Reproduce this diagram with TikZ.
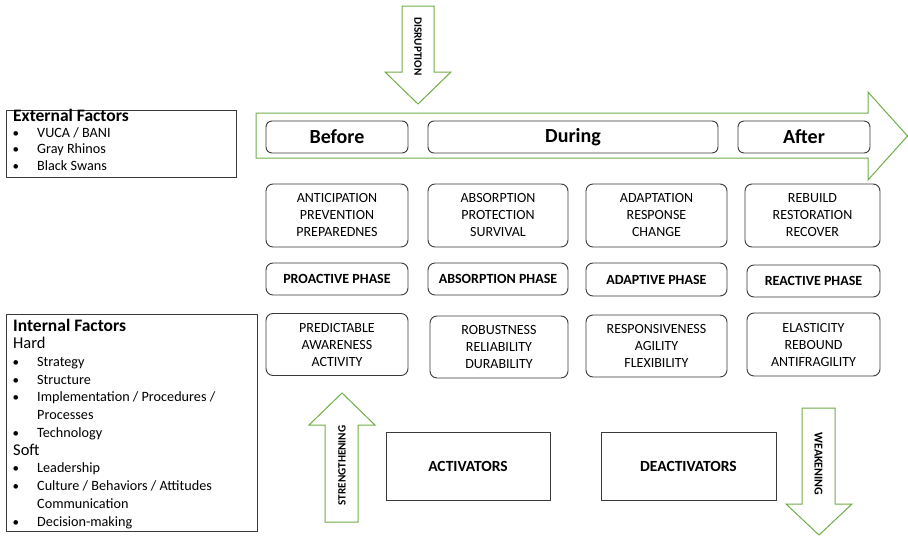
\documentclass[tikz,border=0pt]{standalone}
\usepackage{fontspec}
\setmainfont{Carlito}
\definecolor{arrgreen}{HTML}{70AD47}
\definecolor{boxgray}{HTML}{3A3A3A}
\begin{document}
\begin{tikzpicture}[x=1pt,y=-1pt,
  rbox/.style={draw=boxgray, line width=0.9pt, rounded corners=7pt, align=center, inner sep=0pt, font=\fontsize{14}{17}\selectfont},
  pbox/.style={rbox, font=\fontsize{14}{16}\selectfont\bfseries},
  tbox/.style={rbox, rounded corners=6pt, font=\fontsize{20}{22}\selectfont\bfseries},
  sbox/.style={draw=boxgray, line width=0.9pt, inner sep=0pt, font=\fontsize{15.5}{17}\selectfont\bfseries},
  fbox/.style={draw=boxgray, line width=0.9pt},
  garrow/.style={draw=arrgreen, line width=1pt, fill=white},
  vlabel/.style={font=\fontsize{11.2}{13}\selectfont\bfseries, inner sep=0pt},
  ftitle/.style={anchor=mid west, inner sep=0pt, font=\fontsize{17.5}{19}\selectfont\bfseries},
  fhead/.style={anchor=mid west, inner sep=0pt, font=\fontsize{16.5}{18}\selectfont},
  fitem/.style={anchor=mid west, inner sep=0pt, font=\fontsize{14.2}{16}\selectfont},
  fbul/.style={anchor=mid west, inner sep=0pt, font=\fontsize{13}{16}\selectfont}
]
\useasboundingbox (0,0) rectangle (908,536);

% big timeline arrow
\draw[garrow] (256,113) -- (868,113) -- (868,92) -- (907.5,136) -- (868,180) -- (868,158) -- (256,158) -- cycle;

% disruption arrow
\draw[garrow] (402,6) -- (434,6) -- (434,72) -- (451,72) -- (418,104) -- (385,72) -- (402,72) -- cycle;
\node[vlabel, rotate=-90] (disr) at (418,46.5) {DISRUPTION};

% strengthening arrow
\draw[garrow] (325,522) -- (325,425) -- (309,425) -- (342,393) -- (375,425) -- (358,425) -- (358,522) -- cycle;
\node[vlabel, rotate=90] (stren) at (342,465.5) {STRENGTHENING};

% weakening arrow
\draw[garrow] (802,408) -- (835,408) -- (835,504) -- (852,504) -- (819,535) -- (786,504) -- (802,504) -- cycle;
\node[vlabel, font=\fontsize{12}{13}\selectfont\bfseries, rotate=-90] (weak) at (818.5,464) {WEAKENING};

% top phase boxes
\node[tbox, minimum width=142, minimum height=32] (before) at (337,137) {Before};
\node[tbox, minimum width=290, minimum height=32] (during) at (573,137) {During};
\node[tbox, minimum width=132, minimum height=32] (after) at (804,137) {After};

% row 1
\node[rbox, minimum width=142, minimum height=63] (a1) at (337,215.5) {ANTICIPATION\\PREVENTION\\PREPAREDNES};
\node[rbox, minimum width=140, minimum height=63] (a2) at (498,215.5) {ABSORPTION\\PROTECTION\\SURVIVAL};
\node[rbox, minimum width=141, minimum height=63] (a3) at (656.5,215.5) {ADAPTATION\\RESPONSE\\CHANGE};
\node[rbox, minimum width=135, minimum height=63] (a4) at (812.5,215.5) {REBUILD\\RESTORATION\\RECOVER};

% row 2
\node[pbox, minimum width=142, minimum height=32] (p1) at (337,279) {PROACTIVE PHASE};
\node[pbox, minimum width=140, minimum height=32] (p2) at (498,279) {ABSORPTION PHASE};
\node[pbox, minimum width=141, minimum height=33] (p3) at (656.5,279.5) {ADAPTIVE PHASE};
\node[pbox, minimum width=133, minimum height=32] (p4) at (813.5,281) {REACTIVE PHASE};

% row 3
\node[rbox, minimum width=142, minimum height=62] (q1) at (337,344.5) {PREDICTABLE\\AWARENESS\\ACTIVITY};
\node[rbox, minimum width=138, minimum height=62] (q2) at (499,347) {ROBUSTNESS\\RELIABILITY\\DURABILITY};
\node[rbox, minimum width=141, minimum height=62] (q3) at (656.5,346) {RESPONSIVENESS\\AGILITY\\FLEXIBILITY};
\node[rbox, minimum width=133, minimum height=63] (q4) at (813.5,344.5) {ELASTICITY\\REBOUND\\ANTIFRAGILITY};

% activators
\node[sbox, minimum width=164, minimum height=68] (act) at (468,466) {ACTIVATORS};
\node[sbox, minimum width=175, minimum height=68] (deact) at (688.5,466) {DEACTIVATORS};

% external factors
\draw[fbox] (6.5,110) rectangle (236,177);
\node[ftitle] (ext) at (13,119.5) {External Factors};
\node[fbul] (eb1) at (12.5,135) {•};
\node[fitem] (e1) at (37,135) {VUCA / BANI};
\node[fbul] (eb2) at (12.5,151.5) {•};
\node[fitem] (e2) at (37,151.5) {Gray Rhinos};
\node[fbul] (eb3) at (12.5,168) {•};
\node[fitem] (e3) at (37,168) {Black Swans};

% internal factors
\draw[fbox] (6.5,314) rectangle (257.5,531);
\node[ftitle] (int) at (13,329) {Internal Factors};
\node[fhead] (hard) at (13,346.5) {Hard};
\node[fbul] (ib1) at (12.5,364.2) {•};
\node[fitem] (i1) at (37,364.2) {Strategy};
\node[fbul] (ib2) at (12.5,381.9) {•};
\node[fitem] (i2) at (37,381.9) {Structure};
\node[fbul] (ib3) at (12.5,399.6) {•};
\node[fitem] (i3) at (37,399.6) {Implementation / Procedures /};
\node[fitem] (i3b) at (37,417.3) {Processes};
\node[fbul] (ib4) at (12.5,435) {•};
\node[fitem] (i4) at (37,435) {Technology};
\node[fhead] (soft) at (13,452.8) {Soft};
\node[fbul] (ib5) at (12.5,470.6) {•};
\node[fitem] (i5) at (37,470.6) {Leadership};
\node[fbul] (ib6) at (12.5,488.4) {•};
\node[fitem] (i6) at (37,488.4) {Culture / Behaviors / Attitudes};
\node[fitem] (i6b) at (37,506.2) {Communication};
\node[fbul] (ib7) at (12.5,524) {•};
\node[fitem] (i7) at (37,524) {Decision-making};
\end{tikzpicture}
\end{document}
